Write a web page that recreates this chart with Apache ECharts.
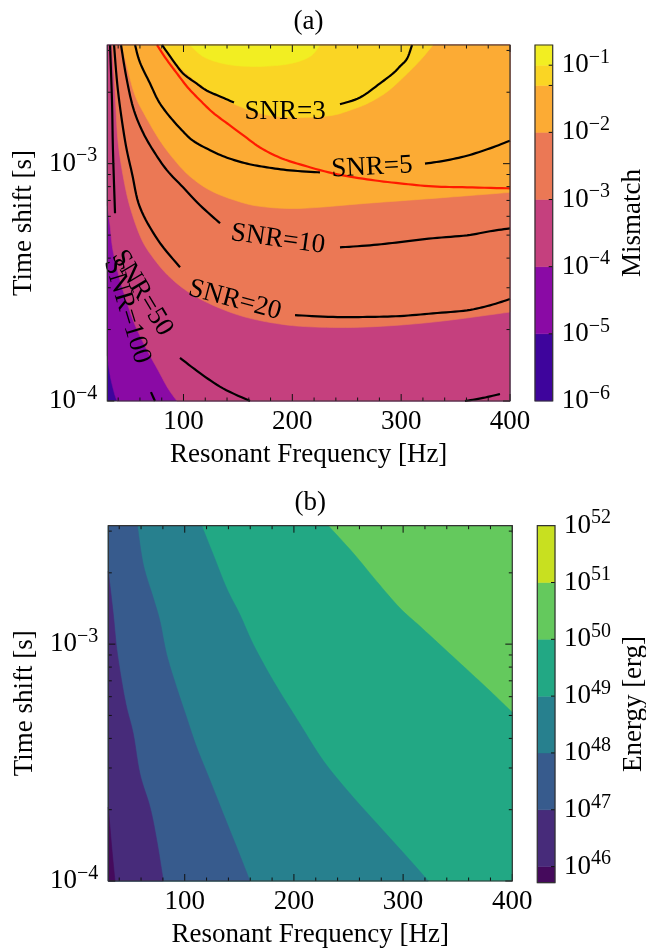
<!DOCTYPE html>
<html><head><meta charset="utf-8">
<script src="https://cdn.jsdelivr.net/npm/echarts@6/dist/echarts.min.js"></script>
<style>html,body{margin:0;padding:0;background:#fff}#c{width:646px;height:949px}</style>
</head><body><div id="c"></div>
<script>
// ================= DATA =================
const freqMin = 30, freqMax = 400;
const timeMin = 1e-4, timeMax = 3.1623e-3;
const xMajorTicks = [100, 200, 300, 400];
const xMinorTicks = [40, 60, 80, 120, 140, 160, 180, 220, 240, 260, 280, 320, 340, 360, 380];
const yMajorTicks = [1e-4, 1e-3];
const yMinorTicks = [2e-4, 3e-4, 4e-4, 5e-4, 6e-4, 7e-4, 8e-4, 9e-4, 2e-3, 3e-3];

// panel (a): mismatch levels & colours (plasma)
const mismatchLevels = [1e-6, 1e-5, 1e-4, 1e-3, 1e-2, 0.05, 0.1, 0.2];
const mismatchColors = ['#3e049c', '#8a0aa5', '#c5407e', '#eb7855', '#fcab34', '#fad524', '#f2ee22'];
const mismatchTicks = [1e-5, 1e-4, 1e-3, 1e-2, 0.05, 0.1];

// boundaries [freq Hz, time s] of regions where mismatch > level
const mmOver1e5 = [[30,1.56e-4],[32.5,1.29e-4],[36.2,1.09e-4],[38.9,1e-4]];
const mmOver1e4 = [[30,6.68e-4],[32.5,5.50e-4],[35.2,4.32e-4],[41.7,3.23e-4],[49.0,2.53e-4],[55.5,2.09e-4],[66.5,1.64e-4],[76.6,1.35e-4],[85.8,1.13e-4],[94.0,1e-4]];
const mmOver1e3 = [[34.3,3.1623e-3],[37.1,2.03e-3],[39.8,1.25e-3],[45.3,8.51e-4],[51.8,6.36e-4],[61.9,4.76e-4],[73.8,3.92e-4],[87.6,3.32e-4],[106.0,2.85e-4],[129.0,2.51e-4],[156.5,2.26e-4],[188.7,2.11e-4],[220.8,2.05e-4],[268.6,2.05e-4],[329.2,2.15e-4],[400,2.37e-4]];
const mmOver1e2 = [[43.5,3.1623e-3],[49.0,2.47e-3],[55.5,1.94e-3],[64.6,1.60e-3],[78.4,1.25e-3],[92.2,1.03e-3],[106.0,8.84e-4],[124.4,7.72e-4],[147.3,7.01e-4],[170.3,6.61e-4],[207.1,6.48e-4],[268.6,6.81e-4],[329.2,7.14e-4],[400,7.57e-4]];
const mmOver5e2 = [[78.4,3.1623e-3],[92.2,2.67e-3],[110.6,2.24e-3],[129.0,1.96e-3],[151.9,1.74e-3],[174.9,1.61e-3],[197.9,1.57e-3],[216.3,1.57e-3],[237.4,1.60e-3],[253.0,1.68e-3],[268.6,1.79e-3],[285.2,1.98e-3],[298.9,2.24e-3],[317.3,2.72e-3],[329.2,3.1623e-3]];
const mmOver1e1 = [[106.0,3.1623e-3],[119.8,2.80e-3],[142.7,2.61e-3],[170.3,2.57e-3],[197.9,2.64e-3],[216.3,2.83e-3],[225.4,3.1623e-3]];

// SNR contour lines (segments, gaps where labels sit)
const snr3 = [
  [[80.3,3.1623e-3],[90.4,2.72e-3],[99.6,2.40e-3],[110.6,2.20e-3],[121.6,2.03e-3],[133.6,1.92e-3],[146.4,1.81e-3]],
  [[243.8,1.78e-3],[262.2,1.90e-3],[280.6,2.18e-3],[292.5,2.40e-3],[298.9,2.57e-3],[305.4,2.77e-3],[310.0,3.1623e-3]]
];
const snr5 = [
  [[55.5,3.1623e-3],[60.0,2.67e-3],[69.2,2.18e-3],[76.6,1.85e-3],[84.9,1.63e-3],[96.8,1.41e-3],[108.7,1.25e-3],[124.4,1.14e-3],[140.0,1.06e-3],[158.4,1.00e-3],[176.7,9.65e-4],[197.9,9.37e-4],[225.4,9.19e-4]],
  [[321.9,1.00e-3],[340.3,1.03e-3],[360.5,1.08e-3],[381.6,1.16e-3],[400,1.25e-3]]
];
const snr10 = [
  [[42.6,3.1623e-3],[47.2,2.35e-3],[53.6,1.73e-3],[61.9,1.38e-3],[72.0,1.14e-3],[84.9,9.37e-4],[99.6,7.95e-4],[115.2,6.68e-4],[133.6,5.61e-4]],
  [[243.8,4.44e-4],[271.4,4.53e-4],[298.9,4.67e-4],[329.2,4.85e-4],[360.5,4.99e-4],[381.6,5.19e-4],[400,5.34e-4]]
];
const snr20 = [
  [[36.2,3.1623e-3],[39.8,2.03e-3],[46.3,1.25e-3],[52.7,9.10e-4],[60.0,6.55e-4],[76.6,4.76e-4],[96.8,3.66e-4]],
  [[202.5,2.30e-4],[237.4,2.26e-4],[268.6,2.26e-4],[298.9,2.28e-4],[329.2,2.34e-4],[360.5,2.41e-4],[381.6,2.53e-4],[400,2.69e-4]]
];
const snr50 = [
  [[32.5,3.1623e-3],[34.3,1.85e-3],[35.2,1.14e-3],[37.1,6.18e-4]],
  [[96.8,1.52e-4],[115.2,1.31e-4],[136.3,1.13e-4],[161.1,1e-4]],
  [[358.6,1e-4],[375.2,1.03e-4],[390.8,1.07e-4]]
];
const snr100 = [
  [[70.1,1.09e-4],[73.8,1e-4]]
];
// red curve
const redCurve = [[75.7,3.1623e-3],[83.9,2.77e-3],[94.0,2.40e-3],[104.1,2.09e-3],[115.2,1.85e-3],[127.1,1.64e-3],[140.0,1.48e-3],[154.7,1.32e-3],[170.3,1.17e-3],[188.7,1.06e-3],[207.1,9.93e-4],[237.4,9.10e-4],[268.6,8.59e-4],[298.9,8.26e-4],[329.2,8.02e-4],[360.5,7.95e-4],[400,7.87e-4]];
// inline labels: text, freq, time, angle (deg, clockwise)
const snrLabels = [
  ['SNR=3', 193.3, 1.66e-3, 0],
  ['SNR=5', 273.2, 9.65e-4, -3],
  ['SNR=10', 186.8, 4.80e-4, 8],
  ['SNR=20', 147.3, 2.66e-4, 15],
  ['SNR=50', 61.9, 2.85e-4, 59],
  ['SNR=100', 48.1, 2.39e-4, 73]
];

// panel (b): energy levels & colours (viridis)
const energyLevels = [5.2e45, 1e46, 1e47, 1e48, 1e49, 1e50, 1e51, 1e52];
const energyColors = ['#450a5c', '#472b7a', '#375b8d', '#27808e', '#22a884', '#64c95d', '#c8e020'];
const energyTicks = [1e46, 1e47, 1e48, 1e49, 1e50, 1e51];
// boundaries of regions where energy < level
const enUnder1e50 = [[231.5,3.1623e-3],[254.4,2.42e-3],[275.8,1.84e-3],[297.1,1.42e-3],[315.4,1.19e-3],[336.8,9.65e-4],[358.2,7.83e-4],[379.5,6.35e-4],[400,5.15e-4]];
const enUnder1e49 = [[115.5,3.1623e-3],[126.2,2.38e-3],[138.4,1.72e-3],[150.6,1.33e-3],[162.8,9.97e-4],[181.1,6.99e-4],[205.5,4.60e-4],[226.9,3.22e-4],[251.3,2.34e-4],[278.8,1.69e-4],[303.2,1.27e-4],[323.1,1e-4]];
const enUnder1e48 = [[56.6,3.1623e-3],[62.1,2.16e-3],[71.2,1.565e-3],[77.3,1.25e-3],[83.4,9.05e-4],[92.6,6.55e-4],[101.7,4.90e-4],[110.9,3.67e-4],[123.1,2.66e-4],[135.3,1.92e-4],[147.5,1.39e-4],[159.7,1e-4]];
const enUnder1e47 = [[30,2.03e-3],[34.6,1.33e-3],[37.6,9.65e-4],[42.2,6.99e-4],[46.8,5.40e-4],[52.9,4.17e-4],[59.0,2.83e-4],[68.2,2.05e-4],[74.3,1.49e-4],[80.4,1e-4]];
const enUnder1e46 = [[30,2.05e-4],[33.1,1.39e-4],[36.1,1e-4]];

// ================= RENDER =================
const F = "'Liberation Serif', 'Times New Roman', serif";
const FS = 27;
const corner = { BL: [freqMin, timeMin], BR: [freqMax, timeMin], TR: [freqMax, timeMax], TL: [freqMin, timeMax] };

function spline(pts, n) {
  if (pts.length < 3) return pts;
  const out = [];
  for (let i = 0; i < pts.length - 1; i++) {
    const p0 = pts[Math.max(i - 1, 0)], p1 = pts[i], p2 = pts[i + 1], p3 = pts[Math.min(i + 2, pts.length - 1)];
    for (let k = 0; k < n; k++) {
      const t = k / n, t2 = t * t, t3 = t2 * t;
      const f = j => 0.5 * (2 * p1[j] + (-p0[j] + p2[j]) * t + (2 * p0[j] - 5 * p1[j] + 4 * p2[j] - p3[j]) * t2 + (-p0[j] + 3 * p1[j] - 3 * p2[j] + p3[j]) * t3);
      out.push([f(0), f(1)]);
    }
  }
  out.push(pts[pts.length - 1]);
  return out;
}
function regionPoly(api, curve, corners, color) {
  let pts = spline(curve.map(p => api.coord(p)), 8);
  corners.forEach(c => pts.push(api.coord(corner[c])));
  return { type: 'polygon', shape: { points: pts }, style: { fill: color, stroke: color, lineWidth: 0.6 } };
}
function fullRect(api, color) {
  const a = api.coord(corner.TL), b = api.coord(corner.BR);
  return { type: 'rect', shape: { x: a[0], y: a[1], width: b[0] - a[0], height: b[1] - a[1] }, style: { fill: color } };
}
function fillsA(params, api) {
  const c = mismatchColors;
  return { type: 'group', children: [
    fullRect(api, c[0]),
    regionPoly(api, mmOver1e5, ['BR', 'TR', 'TL'], c[1]),
    regionPoly(api, mmOver1e4, ['BR', 'TR', 'TL'], c[2]),
    regionPoly(api, mmOver1e3, ['TR'], c[3]),
    regionPoly(api, mmOver1e2, ['TR'], c[4]),
    regionPoly(api, mmOver5e2, [], c[5]),
    regionPoly(api, mmOver1e1, [], c[6])
  ]};
}
function fillsB(params, api) {
  const c = energyColors;
  return { type: 'group', children: [
    fullRect(api, c[5]),
    regionPoly(api, enUnder1e50, ['BR', 'BL', 'TL'], c[4]),
    regionPoly(api, enUnder1e49, ['BL', 'TL'], c[3]),
    regionPoly(api, enUnder1e48, ['BL', 'TL'], c[2]),
    regionPoly(api, enUnder1e47, ['BL'], c[1]),
    regionPoly(api, enUnder1e46, ['BL'], c[0])
  ]};
}
function lineEl(api, seg, color) {
  return { type: 'polyline', shape: { points: spline(seg.map(p => api.coord(p)), 8) }, style: { stroke: color, lineWidth: 2.2, fill: 'none' } };
}
function contoursA(params, api) {
  const kids = [];
  [snr3, snr5, snr10, snr20, snr50, snr100].forEach(segs => segs.forEach(s => { if (s.length > 1) kids.push(lineEl(api, s, '#000')); }));
  kids.push({ type: 'polyline', shape: { points: spline(redCurve.map(p => api.coord(p)), 8) }, style: { stroke: '#ff1a00', lineWidth: 2.2, fill: 'none' } });
  snrLabels.forEach(l => {
    const p = api.coord([l[1], l[2]]);
    kids.push({ type: 'text', x: p[0], y: p[1], rotation: -l[3] * Math.PI / 180,
      style: { text: l[0], fontFamily: F, fontSize: 27, fill: '#000', align: 'center', verticalAlign: 'middle' } });
  });
  return { type: 'group', children: kids };
}
function frameTicks(params, api) {
  const kids = [];
  const tl = api.coord(corner.TL), br = api.coord(corner.BR);
  const L = tl[0], T = tl[1], R = br[0], B = br[1];
  const ln = (x1, y1, x2, y2) => kids.push({ type: 'line', shape: { x1, y1, x2, y2 }, style: { stroke: '#111', lineWidth: 1 } });
  xMajorTicks.forEach(v => { const x = api.coord([v, timeMin])[0]; ln(x, B, x, B - 7); ln(x, T, x, T + 7); });
  xMinorTicks.forEach(v => { const x = api.coord([v, timeMin])[0]; ln(x, B, x, B - 3.5); ln(x, T, x, T + 3.5); });
  yMajorTicks.forEach(v => { const y = api.coord([freqMin, v])[1]; ln(L, y, L + 7, y); ln(R, y, R - 7, y); });
  yMinorTicks.forEach(v => { const y = api.coord([freqMin, v])[1]; ln(L, y, L + 3.5, y); ln(R, y, R - 3.5, y); });
  kids.push({ type: 'rect', shape: { x: L, y: T, width: R - L, height: B - T }, style: { fill: 'none', stroke: '#333', lineWidth: 1.2 } });
  return { type: 'group', children: kids };
}
function colorbar(levels, colors, ticks) {
  return function (params, api) {
    const kids = [];
    for (let i = 0; i < colors.length; i++) {
      const a = api.coord([0, levels[i]]), b = api.coord([1, levels[i + 1]]);
      kids.push({ type: 'rect', shape: { x: a[0], y: b[1], width: b[0] - a[0], height: a[1] - b[1] }, style: { fill: colors[i], stroke: colors[i], lineWidth: 0.5 } });
    }
    ticks.forEach(v => { const p = api.coord([1, v]); kids.push({ type: 'line', shape: { x1: p[0], y1: p[1], x2: p[0] - 4, y2: p[1] }, style: { stroke: '#111', lineWidth: 1 } }); });
    const a = api.coord([0, levels[0]]), b = api.coord([1, levels[levels.length - 1]]);
    kids.push({ type: 'rect', shape: { x: a[0], y: b[1], width: b[0] - a[0], height: a[1] - b[1] }, style: { fill: 'none', stroke: '#333', lineWidth: 1.2 } });
    return { type: 'group', children: kids };
  };
}
function powLabel(v) {
  const e = Math.log10(v), r = Math.round(e);
  if (Math.abs(e - r) > 1e-3) return '';
  return '{b|10}{s|' + (r < 0 ? '\u2212' + (-r) : String(r)) + '}';
}
const rich = {
  b: { fontFamily: F, fontSize: FS, color: '#000', lineHeight: 35 },
  s: { fontFamily: F, fontSize: 20, color: '#000', lineHeight: 18, verticalAlign: 'top' }
};
const nameStyle = { fontFamily: F, fontSize: FS, color: '#000' };

function xAxisMain(grid) {
  return { gridIndex: grid, type: 'value', min: freqMin, max: freqMax,
    splitLine: { show: false }, axisLine: { show: false }, axisTick: { show: false },
    axisLabel: { formatter: v => (xMajorTicks.indexOf(v) >= 0 ? String(v) : ''), fontFamily: F, fontSize: FS, color: '#000', margin: 7 },
    name: 'Resonant Frequency [Hz]', nameLocation: 'middle', nameGap: 40, nameTextStyle: nameStyle };
}
function yAxisMain(grid) {
  return { gridIndex: grid, type: 'log', logBase: 10, min: timeMin, max: timeMax,
    splitLine: { show: false }, axisLine: { show: false }, axisTick: { show: false },
    axisLabel: { formatter: powLabel, rich: rich, margin: 10 },
    name: 'Time shift [s]', nameLocation: 'middle', nameGap: 70, nameRotate: 90, nameTextStyle: nameStyle };
}
function yAxisBar(grid, levels) {
  return { gridIndex: grid, type: 'log', logBase: 10, min: levels[0], max: levels[levels.length - 1], position: 'right',
    splitLine: { show: false }, axisLine: { show: false }, axisTick: { show: false },
    axisLabel: { formatter: powLabel, rich: rich, margin: 9 } };
}

const option = {
  animation: false,
  grid: [
    { left: 107.3, top: 45, width: 402.7, height: 356 },
    { left: 535, top: 45, width: 17.7, height: 356 },
    { left: 108.3, top: 525.7, width: 404, height: 357 },
    { left: 537.3, top: 525.7, width: 17.7, height: 357 }
  ],
  xAxis: [
    xAxisMain(0),
    { gridIndex: 1, type: 'value', min: 0, max: 1, show: false },
    xAxisMain(2),
    { gridIndex: 3, type: 'value', min: 0, max: 1, show: false }
  ],
  yAxis: [
    yAxisMain(0),
    yAxisBar(1, mismatchLevels),
    yAxisMain(2),
    yAxisBar(3, energyLevels)
  ],
  graphic: [
    { type: 'text', x: 308.6, y: 22, style: { text: '(a)', fontFamily: F, fontSize: FS, fill: '#000', align: 'center', verticalAlign: 'middle' } },
    { type: 'text', x: 310.3, y: 503, style: { text: '(b)', fontFamily: F, fontSize: FS, fill: '#000', align: 'center', verticalAlign: 'middle' } },
    { type: 'text', x: 633, y: 223, rotation: Math.PI / 2, style: { text: 'Mismatch', fontFamily: F, fontSize: FS, fill: '#000', align: 'center', verticalAlign: 'middle' } },
    { type: 'text', x: 634, y: 704, rotation: Math.PI / 2, style: { text: 'Energy [erg]', fontFamily: F, fontSize: FS, fill: '#000', align: 'center', verticalAlign: 'middle' } }
  ],
  series: [
    { type: 'custom', xAxisIndex: 0, yAxisIndex: 0, z: 1, silent: true, renderItem: fillsA, data: [[freqMin, timeMin]] },
    { type: 'custom', xAxisIndex: 0, yAxisIndex: 0, z: 3, silent: true, renderItem: contoursA, data: [[freqMin, timeMin]] },
    { type: 'custom', xAxisIndex: 0, yAxisIndex: 0, z: 5, silent: true, renderItem: frameTicks, data: [[freqMin, timeMin]] },
    { type: 'custom', xAxisIndex: 1, yAxisIndex: 1, z: 1, silent: true, renderItem: colorbar(mismatchLevels, mismatchColors, mismatchTicks), data: [[0, mismatchLevels[0]]] },
    { type: 'custom', xAxisIndex: 2, yAxisIndex: 2, z: 1, silent: true, renderItem: fillsB, data: [[freqMin, timeMin]] },
    { type: 'custom', xAxisIndex: 2, yAxisIndex: 2, z: 5, silent: true, renderItem: frameTicks, data: [[freqMin, timeMin]] },
    { type: 'custom', xAxisIndex: 3, yAxisIndex: 3, z: 1, silent: true, renderItem: colorbar(energyLevels, energyColors, energyTicks), data: [[0, energyLevels[0]]] }
  ]
};
const chart = echarts.init(document.getElementById('c'), null, { renderer: 'canvas' });
chart.setOption(option);
</script>
</body></html>
